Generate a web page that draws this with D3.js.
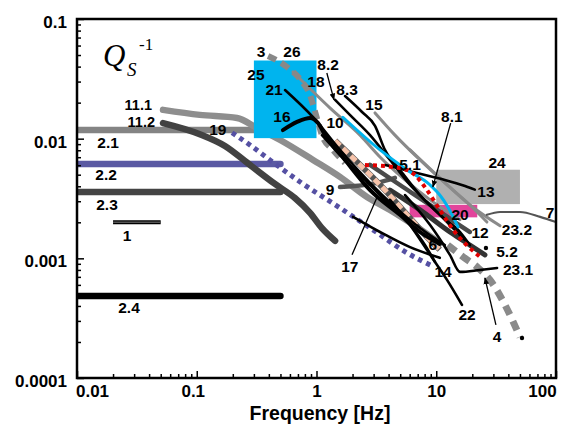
<!DOCTYPE html>
<html>
<head>
<meta charset="utf-8">
<script src="https://cdn.jsdelivr.net/npm/d3@7"></script>
<style>
  body { margin: 0; background: #fff; }
  svg { display: block; }
  text { font-family: "Liberation Sans", Arial, sans-serif; }
</style>
</head>
<body>
<svg id="chart" width="561" height="438"></svg>
<script>
// axis ticks
const freqTicks = [0.01, 0.1, 1, 10, 100];
const qTicks = [0.0001, 0.001, 0.01, 0.1];

// curves, [frequency Hz, Qs^-1]
const s1 = [[0.02, 0.002], [0.05, 0.002]];
const s2_1 = [[0.01, 0.0118], [0.5, 0.0118]];
const s2_2 = [[0.01, 0.00615], [0.5, 0.00615]];
const s2_3 = [[0.01, 0.00359], [0.5, 0.00359]];
const s2_4 = [[0.01, 0.000485], [0.5, 0.000485]];
const s11_1 = [[0.0523, 0.0174], [0.106, 0.0158], [0.217, 0.0149], [0.318, 0.0123], [0.497, 0.00975],
  [0.936, 0.00664], [1.57, 0.00479], [2.64, 0.00326], [4.11, 0.00254], [6.64, 0.00187], [10.7, 0.00134]];
const s11_2 = [[0.0523, 0.0135], [0.106, 0.0109], [0.172, 0.00869], [0.278, 0.00603], [0.45, 0.00418],
  [0.66, 0.00319], [0.883, 0.0024], [1.11, 0.00179], [1.43, 0.0014]];
const s19 = [[0.197, 0.0112], [0.278, 0.00886], [0.408, 0.00664], [0.73, 0.00435], [1.57, 0.00264],
  [2.96, 0.00173], [5.7, 0.00111], [9.22, 0.000864]];
const s3 = [[0.394, 0.0491], [0.567, 0.0397], [0.771, 0.0292], [0.883, 0.0232], [0.953, 0.018],
  [1.03, 0.0138], [1.11, 0.0107], [1.37, 0.00805], [1.73, 0.00627]];
const s4 = [[12.5, 0.00129], [16.7, 0.00103], [21.9, 0.000847], [28.1, 0.00066], [37.5, 0.000408], [50, 0.00022]];
const s26 = [[0.636, 0.0361], [1.3, 0.018], [2.31, 0.0107], [3.39, 0.00703], [5.49, 0.00452], [8.89, 0.00308], [15.8, 0.0021]];
const s15 = [[3.08, 0.0164], [4.52, 0.0107], [7.32, 0.00664], [11.8, 0.00427], [19.1, 0.00279], [26.5, 0.00201]];
const s23_2 = [[6.04, 0.00805], [10.7, 0.0047], [19.1, 0.00279], [34.1, 0.00187]];
const s7 = [[26.5, 0.00231], [34.1, 0.00244], [50, 0.00244], [73.7, 0.00222], [100, 0.00201]];
const s25 = [[1.66, 0.0151], [3.39, 0.00805], [5.7, 0.00548], [8.89, 0.0041], [10.7, 0.00338], [12.5, 0.00269], [15.2, 0.00183]];
const s5_1 = [[2.54, 0.00603], [4.98, 0.00569], [6.64, 0.00497], [8.36, 0.00372], [10.7, 0.00254], [14.3, 0.00166], [23.2, 0.00103]];
const s5_2 = [[4.11, 0.00372], [7.32, 0.00254], [13, 0.00166], [19.1, 0.00129], [25.5, 0.00107]];
const s6 = [[1.43, 0.0096], [2.31, 0.00603], [3.73, 0.00372], [5.7, 0.00231], [8.07, 0.00157], [10.7, 0.00118]];
const s8_2 = [[1.43, 0.0211], [1.9, 0.0158], [2.8, 0.0107], [4.11, 0.00664], [6.04, 0.0041], [8.89, 0.00279], [13, 0.0019], [17.4, 0.00142]];
const s8_3 = [[1.73, 0.0227], [2.4, 0.0167], [3.08, 0.0128], [3.73, 0.00805], [4.98, 0.00548], [7.32, 0.00338],
  [10.7, 0.00231], [15.8, 0.00166], [19.1, 0.00129]];
const s21 = [[0.546, 0.0255], [0.936, 0.0151], [1.57, 0.00805], [2.8, 0.00427], [4.52, 0.00269], [7.32, 0.00179], [11.8, 0.00129]];
const s16 = [[0.524, 0.0118], [0.688, 0.0138], [0.883, 0.0149], [1.03, 0.0135], [1.18, 0.0107], [1.73, 0.00664],
  [2.8, 0.00372], [4.98, 0.00231], [7.32, 0.00166], [10.7, 0.00132]];
const s10 = [[1.11, 0.0107], [1.57, 0.00731], [2.54, 0.00452], [4.11, 0.00279], [6.04, 0.0019], [8.07, 0.00129], [9.76, 0.000933]];
const s14 = [[2.02, 0.00222], [3.39, 0.00166], [6.04, 0.00124], [10.7, 0.00101]];
const s22 = [[4.11, 0.00308], [6.04, 0.0019], [8.89, 0.00107], [12.3, 0.00066], [16.4, 0.000408]];
const s23_1 = [[5.49, 0.00338], [8.89, 0.0019], [13, 0.00107], [15.8, 0.00077], [23.2, 0.0008], [32.2, 0.000831]];
const s13 = [[3.73, 0.00603], [5.49, 0.00548], [8.07, 0.00497], [11.8, 0.00452], [17.4, 0.00402], [21, 0.00375]];
const s9 = [[1.57, 0.00394], [3.21, 0.00427], [4.52, 0.0047]];
const s12 = [[2.8, 0.00603], [4.98, 0.0041], [8.89, 0.00279], [14.3, 0.00201], [19.1, 0.00166]];

// ranges shown as boxes: [f0, f1], [q0, q1]
const box25 = { f: [0.3, 1.0], q: [0.0101, 0.045] };
const box24 = { f: [10, 50], q: [0.00284, 0.0055] };
const box20 = { f: [6, 22], q: [0.0022, 0.0028] };

// pointer lines and end dots
const leaders = [
  { d: [[1.22, 0.0354], [1.40, 0.0211]], arrow: true },
  { d: [[13.2, 0.0135], [9.37, 0.00395]], arrow: true },
  { d: [[31.5, 0.000278], [25.5, 0.000686]], arrow: true },
  { d: [[1.98, 0.00107], [3.21, 0.00326]], arrow: false }
];
const endDots = [[52, 0.000216], [26, 0.00122]];

// curve numbers: text, frequency, Qs^-1 of baseline
const curveLabels = [
  ["11.1", 0.0423, 0.0172, "end"], ["11.2", 0.0448, 0.0125, "end"],
  ["2.1", 0.0182, 0.00836], ["2.2", 0.0175, 0.00452], ["2.3", 0.0178, 0.00254],
  ["1", 0.0262, 0.0014], ["2.4", 0.0272, 0.00035], ["19", 0.15, 0.0107],
  ["3", 0.344, 0.0481], ["26", 0.624, 0.0481], ["25", 0.312, 0.0309], ["21", 0.442, 0.0232],
  ["18", 0.99, 0.027], ["8.2", 1.25, 0.0375], ["8.3", 1.8, 0.0232], ["16", 0.515, 0.0138],
  ["10", 1.43, 0.0123], ["15", 3.02, 0.0174], ["8.1", 13.5, 0.0138], ["5.1", 6.04, 0.00548],
  ["24", 32.2, 0.00569], ["13", 26.0, 0.00326], ["20", 15.8, 0.0021], ["7", 89.2, 0.00218],
  ["23.2", 47.2, 0.00157], ["12", 23.2, 0.00148], ["6", 9.37, 0.00118], ["5.2", 39.0, 0.00103],
  ["14", 11.4, 0.000699], ["23.1", 48.2, 0.000727], ["22", 18.1, 0.000306], ["4", 32.2, 0.0002],
  ["9", 1.30, 0.00338], ["17", 1.90, 0.00077]
];

const svg = d3.select("#chart");
const pLeft = 77, pRight = 556, pTop = 19, pBottom = 378;

const x = d3.scaleLog().domain([0.01, 100]).range([pLeft, pRight]);
const y = d3.scaleLog().domain([0.0001, 0.1]).range([pBottom, pTop]);

const defs = svg.append("defs");
defs.append("clipPath").attr("id", "clip")
  .append("rect").attr("x", pLeft).attr("y", pTop).attr("width", pRight - pLeft).attr("height", pBottom - pTop);
defs.append("marker").attr("id", "arrow")
  .attr("viewBox", "0 0 10 10").attr("refX", 9).attr("refY", 5)
  .attr("markerWidth", 7).attr("markerHeight", 7).attr("orient", "auto-start-reverse")
  .attr("markerUnits", "userSpaceOnUse")
  .append("path").attr("d", "M0,1L10,5L0,9z").attr("fill", "#000");

const plot = svg.append("g").attr("clip-path", "url(#clip)");

const line = d3.line()
  .x(d => x(d[0]))
  .y(d => y(d[1]))
  .curve(d3.curveMonotoneX);

function box(b, fill) {
  plot.append("rect")
    .attr("x", x(b.f[0]))
    .attr("y", y(b.q[1]))
    .attr("width", x(b.f[1]) - x(b.f[0]))
    .attr("height", y(b.q[0]) - y(b.q[1]))
    .attr("fill", fill);
}

function draw(data, stroke, width, dash, cap) {
  plot.append("path")
    .datum(data)
    .attr("d", line)
    .attr("fill", "none")
    .attr("stroke", stroke)
    .attr("stroke-width", width)
    .attr("stroke-dasharray", dash || null)
    .attr("stroke-linecap", cap || "round")
    .attr("stroke-linejoin", "round");
}

box(box24, "#b0b0b0");
box(box20, "#e2449b");

draw(s2_1, "#848484", 6.5);
draw(s2_2, "#5a59a3", 6.5);
draw(s2_3, "#444444", 6.5);
draw(s2_4, "#000000", 6.5);
draw(s1, "#000000", 4, null, "butt");
draw(s1, "#555555", 1.5, null, "butt");
draw(s11_1, "#8e8e8e", 6.5);
draw(s11_2, "#424242", 6.5);

box(box25, "#00b4ee");

draw(s19, "#5550a3", 5, "4.5,4.5", "butt");
draw(s26, "#8a8a8a", 3);
draw(s15, "#8a8a8a", 3);
draw(s23_2, "#8a8a8a", 3);
draw(s7, "#555555", 2.2);
draw(s3, "#888888", 6, "9,6", "butt");
draw(s4, "#8a8a8a", 7, "10,7", "butt");
draw(s9, "#555555", 4.5);
draw(s12, "#4a4a4a", 4.5);
draw(s5_2, "#333333", 5);
draw(s6, "#555555", 6, null, "butt");
draw(s6, "#f6c3aa", 5, "7,4", "butt");

[s8_3, s8_2, s21, s10, s14, s22, s23_1, s13].forEach(s => draw(s, "#000000", 2.6));
draw(s16, "#000000", 4);

draw(s25, "#00b4ee", 3);
draw(s5_1, "#e00000", 4, "4,4", "butt");

leaders.forEach(l => {
  plot.append("path")
    .datum(l.d)
    .attr("d", d3.line().x(d => x(d[0])).y(d => y(d[1])))
    .attr("fill", "none")
    .attr("stroke", "#000")
    .attr("stroke-width", 1.3)
    .attr("marker-end", l.arrow ? "url(#arrow)" : null);
});

plot.selectAll(".dot")
  .data(endDots)
  .enter().append("circle")
  .attr("cx", d => x(d[0]))
  .attr("cy", d => y(d[1]))
  .attr("r", 2.2)
  .attr("fill", "#000");

svg.append("g")
  .selectAll("text")
  .data(curveLabels)
  .enter().append("text")
  .attr("x", d => x(d[1]))
  .attr("y", d => y(d[2]))
  .attr("text-anchor", d => d[3] || "middle")
  .style("font-size", d => d[0].startsWith("11.") ? "14.5px" : "15.5px")
  .style("font-weight", "bold")
  .text(d => d[0]);

// axes with inward ticks
const minorFreq = [];
freqTicks.slice(0, -1).forEach(d => { for (let k = 2; k < 10; k++) minorFreq.push(d * k); });
const minorQ = [];
qTicks.slice(0, -1).forEach(d => { for (let k = 2; k < 10; k++) minorQ.push(d * k); });

const xMinor = svg.append("g").attr("transform", `translate(0,${pBottom})`)
  .call(d3.axisBottom(x).tickValues(minorFreq).tickSize(-4).tickSizeOuter(0).tickFormat(""));
const xMajor = svg.append("g").attr("transform", `translate(0,${pBottom})`)
  .call(d3.axisBottom(x).tickValues(freqTicks).tickSize(-7).tickSizeOuter(0).tickPadding(7).tickFormat(d => String(d)));
const yMinor = svg.append("g").attr("transform", `translate(${pLeft},0)`)
  .call(d3.axisLeft(y).tickValues(minorQ).tickSize(-4).tickSizeOuter(0).tickFormat(""));
const yMajor = svg.append("g").attr("transform", `translate(${pLeft},0)`)
  .call(d3.axisLeft(y).tickValues(qTicks).tickSize(-7).tickSizeOuter(0).tickPadding(10).tickFormat(d => String(d)));

[xMinor, xMajor, yMinor, yMajor].forEach(g => {
  g.select(".domain").remove();
  g.selectAll("line").attr("stroke", "#000").attr("stroke-width", 1.5);
  g.selectAll("text")
    .attr("fill", "#000")
    .style("font-family", "'Liberation Sans', Arial, sans-serif")
    .style("font-size", "17px")
    .style("font-weight", "bold");
});
yMajor.selectAll("text").attr("dy", "0.5em");
xMajor.selectAll("text").filter(d => d === 0.01).attr("dx", 15);
xMajor.selectAll("text").filter(d => d === 0.1).attr("dx", -4);
xMajor.selectAll("text").filter(d => d === 100).attr("dx", -14);

svg.append("rect")
  .attr("x", pLeft).attr("y", pTop)
  .attr("width", pRight - pLeft).attr("height", pBottom - pTop)
  .attr("fill", "none").attr("stroke", "#000").attr("stroke-width", 2.5);

svg.append("text")
  .attr("x", 320).attr("y", 420)
  .attr("text-anchor", "middle")
  .style("font-size", "19.5px")
  .style("font-weight", "bold")
  .text("Frequency [Hz]");

// Qs^-1 symbol
const serif = "'Liberation Serif', 'Times New Roman', serif";
svg.append("text").attr("x", 103).attr("y", 66)
  .style("font-family", serif).style("font-style", "italic").style("font-size", "31px").text("Q");
svg.append("text").attr("x", 127).attr("y", 76)
  .style("font-family", serif).style("font-style", "italic").style("font-size", "19px").text("S");
svg.append("text").attr("x", 139).attr("y", 50)
  .style("font-family", serif).style("font-size", "17px").text("-1");
</script>
</body>
</html>
